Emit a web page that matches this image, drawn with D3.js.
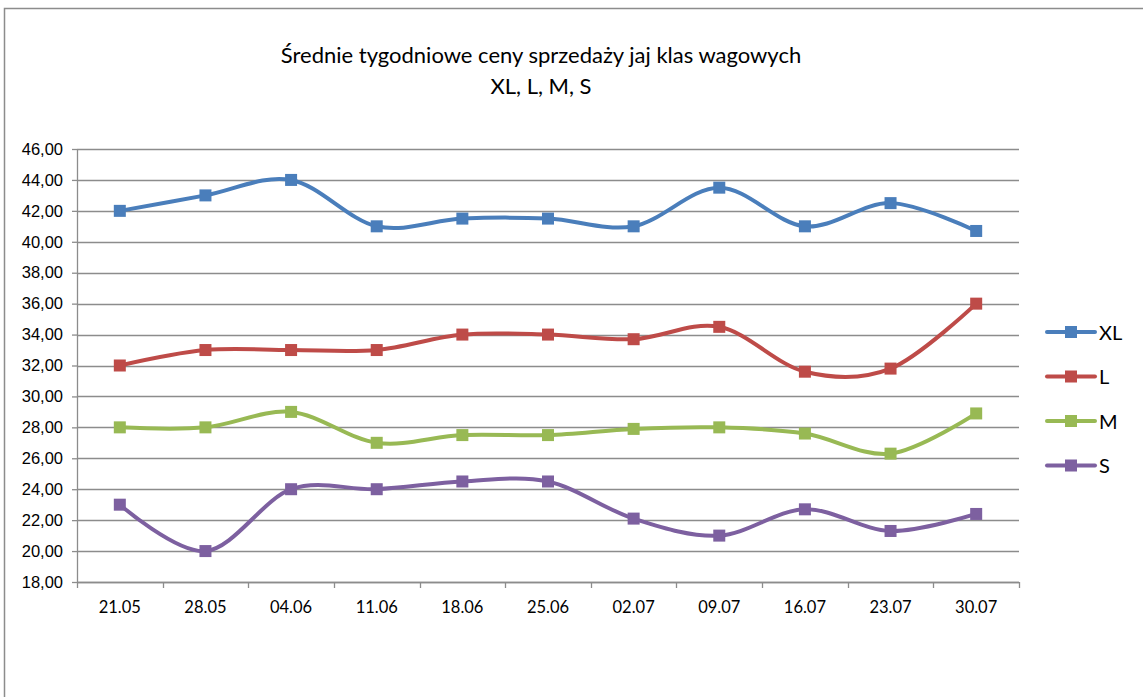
<!DOCTYPE html>
<html>
<head>
<meta charset="utf-8">
<script src="https://cdn.jsdelivr.net/npm/d3@7"></script>
<style>
  body { margin: 0; background: #fff; }
  svg { font-family: Lato, "Open Sans", sans-serif; }
</style>
</head>
<body>
<script>
// Data
var weeks = ["21.05", "28.05", "04.06", "11.06", "18.06", "25.06", "02.07", "09.07", "16.07", "23.07", "30.07"];
var xl = [42.0, 43.0, 44.0, 41.0, 41.5, 41.5, 41.0, 43.5, 41.0, 42.5, 40.7];
var l  = [32.0, 33.0, 33.0, 33.0, 34.0, 34.0, 33.7, 34.5, 31.6, 31.8, 36.0];
var m  = [28.0, 28.0, 29.0, 27.0, 27.5, 27.5, 27.9, 28.0, 27.6, 26.3, 28.9];
var s  = [23.0, 20.0, 24.0, 24.0, 24.5, 24.5, 22.1, 21.0, 22.7, 21.3, 22.4];
var yticks = [18, 20, 22, 24, 26, 28, 30, 32, 34, 36, 38, 40, 42, 44, 46];

var series = [
    {name: "XL", values: xl, color: "#4A7EBB"},
    {name: "L",  values: l,  color: "#BE4B48"},
    {name: "M",  values: m,  color: "#98B954"},
    {name: "S",  values: s,  color: "#7D60A0"}
];

var W = 1143, H = 697;
var margin = {top: 149, right: 124, bottom: 115, left: 77},
    width = W - margin.left - margin.right,
    height = H - margin.top - margin.bottom;

var svg = d3.select("body").append("svg")
    .attr("width", W)
    .attr("height", H);

// chart border (top and left visible)
svg.append("path")
    .attr("d", "M4.5," + H + "V8.5H" + W)
    .attr("fill", "none")
    .attr("stroke", "#8c8c8c")
    .attr("stroke-width", 1.5);

// title
svg.append("text")
    .attr("x", 541).attr("y", 63)
    .attr("text-anchor", "middle")
    .style("font-size", "22px")
    .text("Średnie tygodniowe ceny sprzedaży jaj klas wagowych");
svg.append("text")
    .attr("x", 541).attr("y", 94)
    .attr("text-anchor", "middle")
    .style("font-size", "22px")
    .text("XL, L, M, S");

var g = svg.append("g")
    .attr("transform", "translate(" + margin.left + "," + margin.top + ")");

var x = d3.scaleBand().domain(weeks).range([0, width]);
var y = d3.scaleLinear().domain([18, 46]).range([height, 0]);

// gridlines
g.append("g").selectAll("line")
    .data(yticks)
    .enter().append("line")
        .attr("x1", 0).attr("x2", width)
        .attr("y1", function(d) { return Math.round(y(d)) + 0.5; })
        .attr("y2", function(d) { return Math.round(y(d)) + 0.5; })
        .attr("stroke", "#8c8c8c")
        .attr("stroke-width", 1.3);

// y axis
var yAxis = d3.axisLeft(y)
    .tickValues(yticks)
    .tickSize(5)
    .tickPadding(9)
    .tickFormat(function(d) { return d3.format(".2f")(d).replace(".", ","); });
var ya = g.append("g").call(yAxis);
ya.selectAll("text").style("font-size", "16.5px").attr("fill", "#000");
ya.selectAll("line, path").attr("stroke", "#8c8c8c").attr("stroke-width", 1.3);
ya.select(".domain").attr("d", "M0.5,0V" + height);

// x axis with ticks on band boundaries
var xa = g.append("g").attr("transform", "translate(0," + height + ")");
xa.append("line")
    .attr("x1", 0).attr("x2", width)
    .attr("y1", 0.5).attr("y2", 0.5)
    .attr("stroke", "#8c8c8c").attr("stroke-width", 1.3);
xa.selectAll(".tk")
    .data(weeks.concat(["end"]))
    .enter().append("line")
        .attr("class", "tk")
        .attr("x1", function(d, i) { return Math.round(i * x.step()) + 0.5; })
        .attr("x2", function(d, i) { return Math.round(i * x.step()) + 0.5; })
        .attr("y1", 0).attr("y2", 6)
        .attr("stroke", "#8c8c8c").attr("stroke-width", 1.3);
xa.selectAll(".lbl")
    .data(weeks)
    .enter().append("text")
        .attr("class", "lbl")
        .attr("x", function(d) { return x(d) + x.bandwidth() / 2; })
        .attr("y", 31)
        .attr("text-anchor", "middle")
        .style("font-size", "16.5px")
        .text(function(d) { return d; });

var line = d3.line()
    .x(function(d, i) { return x(weeks[i]) + x.bandwidth() / 2; })
    .y(function(d) { return y(d); })
    .curve(d3.curveCatmullRom.alpha(0));

series.forEach(function(ser) {
    g.append("path")
        .attr("d", line(ser.values))
        .attr("fill", "none")
        .attr("stroke", ser.color)
        .attr("stroke-width", 4)
        .attr("stroke-linejoin", "round");
    g.append("g").selectAll("rect")
        .data(ser.values)
        .enter().append("rect")
            .attr("x", function(d, i) { return x(weeks[i]) + x.bandwidth() / 2 - 6; })
            .attr("y", function(d) { return y(d) - 6; })
            .attr("width", 12).attr("height", 12)
            .attr("fill", ser.color);
});

// legend
var legend = svg.append("g").attr("transform", "translate(1047,332)");
series.forEach(function(ser, i) {
    var lg = legend.append("g").attr("transform", "translate(0," + (i * 44.5) + ")");
    lg.append("line")
        .attr("x1", 0).attr("x2", 48)
        .attr("stroke", ser.color)
        .attr("stroke-width", 4)
        .attr("stroke-linecap", "round");
    lg.append("rect")
        .attr("x", 18).attr("y", -6)
        .attr("width", 12).attr("height", 12)
        .attr("fill", ser.color);
    lg.append("text")
        .attr("x", 52).attr("y", 7.5)
        .style("font-size", "20px")
        .text(ser.name);
});
</script>
</body>
</html>
